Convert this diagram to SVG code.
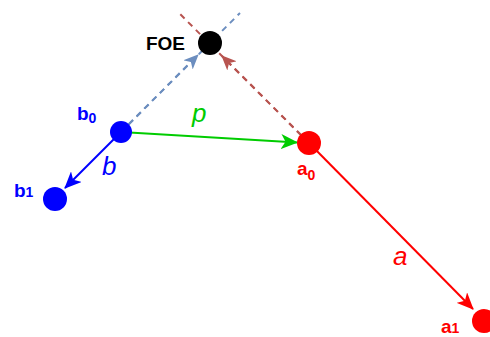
<svg xmlns="http://www.w3.org/2000/svg" width="490" height="337" viewBox="0 0 490 337">
<style>
.lbl{font-family:"Liberation Sans",Arial,sans-serif;font-weight:bold;font-size:19px}
.sub{font-size:14px}
.vec{font-family:"Liberation Sans",Arial,sans-serif;font-style:italic;font-size:26px}
</style>
<defs>
<marker id="mG" markerWidth="17" markerHeight="15" refX="16" refY="7.5" orient="auto" markerUnits="userSpaceOnUse" viewBox="0 0 17 15"><path d="M0,0 L17,7.5 L0,15 L4.5,7.5 Z" fill="#00cc00"/></marker>
<marker id="mB" markerWidth="17" markerHeight="15" refX="16" refY="7.5" orient="auto" markerUnits="userSpaceOnUse" viewBox="0 0 17 15"><path d="M0,0 L17,7.5 L0,15 L4.5,7.5 Z" fill="#0000ff"/></marker>
<marker id="mR" markerWidth="17" markerHeight="15" refX="16" refY="7.5" orient="auto" markerUnits="userSpaceOnUse" viewBox="0 0 17 15"><path d="M0,0 L17,7.5 L0,15 L4.5,7.5 Z" fill="#ff0000"/></marker>
<marker id="mDB" markerWidth="15" markerHeight="13" refX="14" refY="6.5" orient="auto" markerUnits="userSpaceOnUse" viewBox="0 0 15 13"><path d="M0,0 L15,6.5 L0,13 L4,6.5 Z" fill="#6c8ebf"/></marker>
<marker id="mDR" markerWidth="15" markerHeight="13" refX="14" refY="6.5" orient="auto" markerUnits="userSpaceOnUse" viewBox="0 0 15 13"><path d="M0,0 L15,6.5 L0,13 L4,6.5 Z" fill="#b85450"/></marker>
</defs>
<g id="connectors" fill="none" stroke-width="2">
<line x1="121" y1="132" x2="240" y2="13" stroke="#6c8ebf" stroke-dasharray="6,5"/>
<line x1="121" y1="132" x2="198" y2="55" stroke="#6c8ebf" stroke-dasharray="6,5" marker-end="url(#mDB)"/>
<line x1="309" y1="143" x2="178" y2="12" stroke="#b85450" stroke-dasharray="6,5"/>
<line x1="309" y1="143" x2="222" y2="56" stroke="#b85450" stroke-dasharray="6,5" marker-end="url(#mDR)"/>
<line x1="121" y1="132" x2="297" y2="142.5" stroke="#00cc00" marker-end="url(#mG)"/>
<line x1="121" y1="132" x2="65" y2="188" stroke="#0000ff" marker-end="url(#mB)"/>
<line x1="309" y1="143" x2="473" y2="309" stroke="#ff0000" marker-end="url(#mR)"/>
</g>
<g id="FOE"><circle cx="210" cy="43" r="12" fill="#000"/><text class="lbl" x="185" y="50" text-anchor="end" fill="#000">FOE</text></g>
<g id="b0"><circle cx="121" cy="132" r="11" fill="#0000ff"/><text class="lbl" x="77" y="120" fill="#0000ff">b<tspan class="sub" dy="3">0</tspan></text></g>
<g id="b1"><circle cx="55" cy="199" r="12" fill="#0000ff"/><text class="lbl" x="14" y="197" fill="#0000ff">b<tspan class="sub">1</tspan></text></g>
<g id="a0"><circle cx="309" cy="143" r="12" fill="#ff0000"/><text class="lbl" x="297" y="175" fill="#ff0000">a<tspan class="sub" dy="5">0</tspan></text></g>
<g id="a1"><circle cx="484" cy="321" r="12" fill="#ff0000"/><text class="lbl" x="441" y="333" fill="#ff0000">a<tspan class="sub">1</tspan></text></g>
<g id="labels">
<text class="vec" x="192" y="122" fill="#00cc00">p</text>
<text class="vec" x="102" y="175" fill="#0000ff">b</text>
<text class="vec" x="393" y="265" fill="#ff0000">a</text>
</g>
</svg>
